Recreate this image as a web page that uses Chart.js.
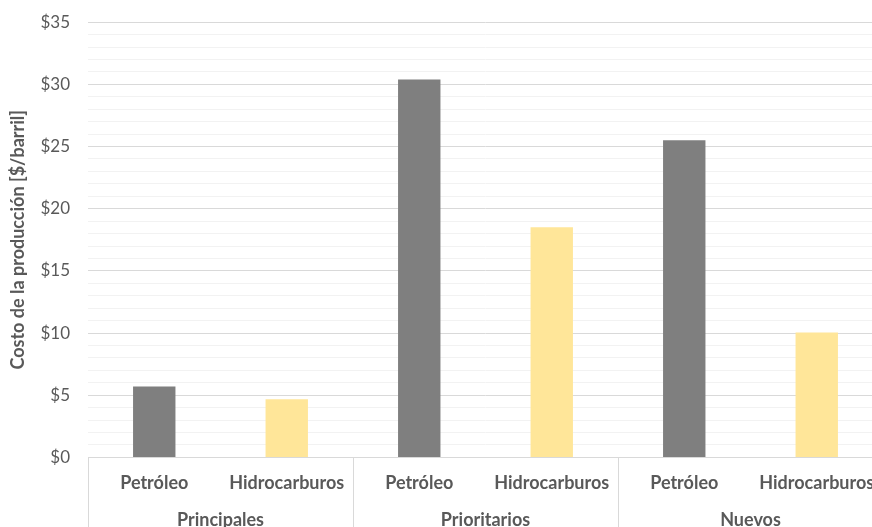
<!DOCTYPE html>
<html>
<head>
<meta charset="utf-8">
<script src="https://cdn.jsdelivr.net/npm/chart.js@4.4.1/dist/chart.umd.min.js"></script>
<style>
  html, body { margin: 0; padding: 0; background: #fff; overflow: hidden; }
  #wrap { width: 872px; height: 527px; overflow: hidden; }
  #chart { display: block; margin-top: -6px; }
</style>
</head>
<body>
<div id="wrap"><canvas id="chart" width="890" height="533"></canvas></div>
<script>
const groups = ['Principales', 'Prioritarios', 'Nuevos'];
const subLabels = ['Petróleo', 'Hidrocarburos'];
const petroleo = [5.7, 30.4, 25.5];
const hidrocarburos = [4.67, 18.5, 10.05];

const FONT = 'Lato, "Open Sans", sans-serif';
const TEXT = '#595959';

// two slots per group, each series sits in its own slot
let labels = [];
let petroleoSlots = [];
let hidroSlots = [];
groups.forEach((g, i) => {
    labels.push(subLabels[0], subLabels[1]);
    petroleoSlots.push(petroleo[i], null);
    hidroSlots.push(null, hidrocarburos[i]);
});

// group names and the dividers below the axis
const groupAxis = {
    id: 'groupAxis',
    afterDraw(chart) {
        let ctx = chart.ctx;
        let x = chart.scales.x;
        let area = chart.chartArea;
        ctx.save();
        ctx.strokeStyle = '#d9d9d9';
        ctx.lineWidth = 1;
        let step = x.getPixelForValue(1) - x.getPixelForValue(0);
        for (let i = 0; i <= groups.length; i++) {
            let px = Math.round(x.getPixelForValue(i * 2) - step / 2) + 0.5;
            ctx.beginPath();
            ctx.moveTo(px, area.bottom);
            ctx.lineTo(px, chart.height);
            ctx.stroke();
        }
        ctx.fillStyle = TEXT;
        ctx.font = 'bold 18px ' + FONT;
        ctx.textAlign = 'center';
        ctx.textBaseline = 'middle';
        groups.forEach((g, i) => {
            let cx = (x.getPixelForValue(i * 2) + x.getPixelForValue(i * 2 + 1)) / 2;
            ctx.fillText(g, cx, area.bottom + 63);
        });
        ctx.restore();
    }
};

new Chart(document.getElementById('chart'), {
    type: 'bar',
    data: {
        labels: labels,
        datasets: [
            {
                label: 'Petróleo',
                data: petroleoSlots,
                backgroundColor: '#7f7f7f',
                grouped: false,
                categoryPercentage: 1,
                barPercentage: 0.32
            },
            {
                label: 'Hidrocarburos',
                data: hidroSlots,
                backgroundColor: '#ffe699',
                grouped: false,
                categoryPercentage: 1,
                barPercentage: 0.32
            }
        ]
    },
    options: {
        responsive: false,
        animation: false,
        layout: { padding: { top: 2, right: 7, bottom: 18, left: 0 } },
        plugins: {
            legend: { display: false },
            tooltip: { enabled: false }
        },
        scales: {
            x: {
                grid: { display: false, drawTicks: false },
                border: { color: '#d9d9d9' },
                ticks: {
                    color: TEXT,
                    font: { family: FONT, size: 18, weight: 'bold' },
                    padding: 15,
                    maxRotation: 0,
                    autoSkip: false
                }
            },
            y: {
                min: 0,
                max: 35,
                afterFit: scale => { scale.width = 88; },
                border: { display: false },
                grid: {
                    drawTicks: false,
                    color: ctx => (ctx.tick && ctx.tick.value % 5 === 0) ? '#d9d9d9' : '#f2f2f2'
                },
                ticks: {
                    stepSize: 1,
                    maxTicksLimit: 100,
                    autoSkip: false,
                    padding: 18,
                    color: TEXT,
                    font: { family: FONT, size: 17 },
                    callback: v => v % 5 === 0 ? '$' + v : ''
                },
                title: {
                    display: true,
                    text: 'Costo de la producción [$/barril]',
                    color: TEXT,
                    font: { family: FONT, size: 18, weight: 'bold' },
                    padding: { top: 7, bottom: 10 }
                }
            }
        }
    },
    plugins: [groupAxis]
});
</script>
</body>
</html>
